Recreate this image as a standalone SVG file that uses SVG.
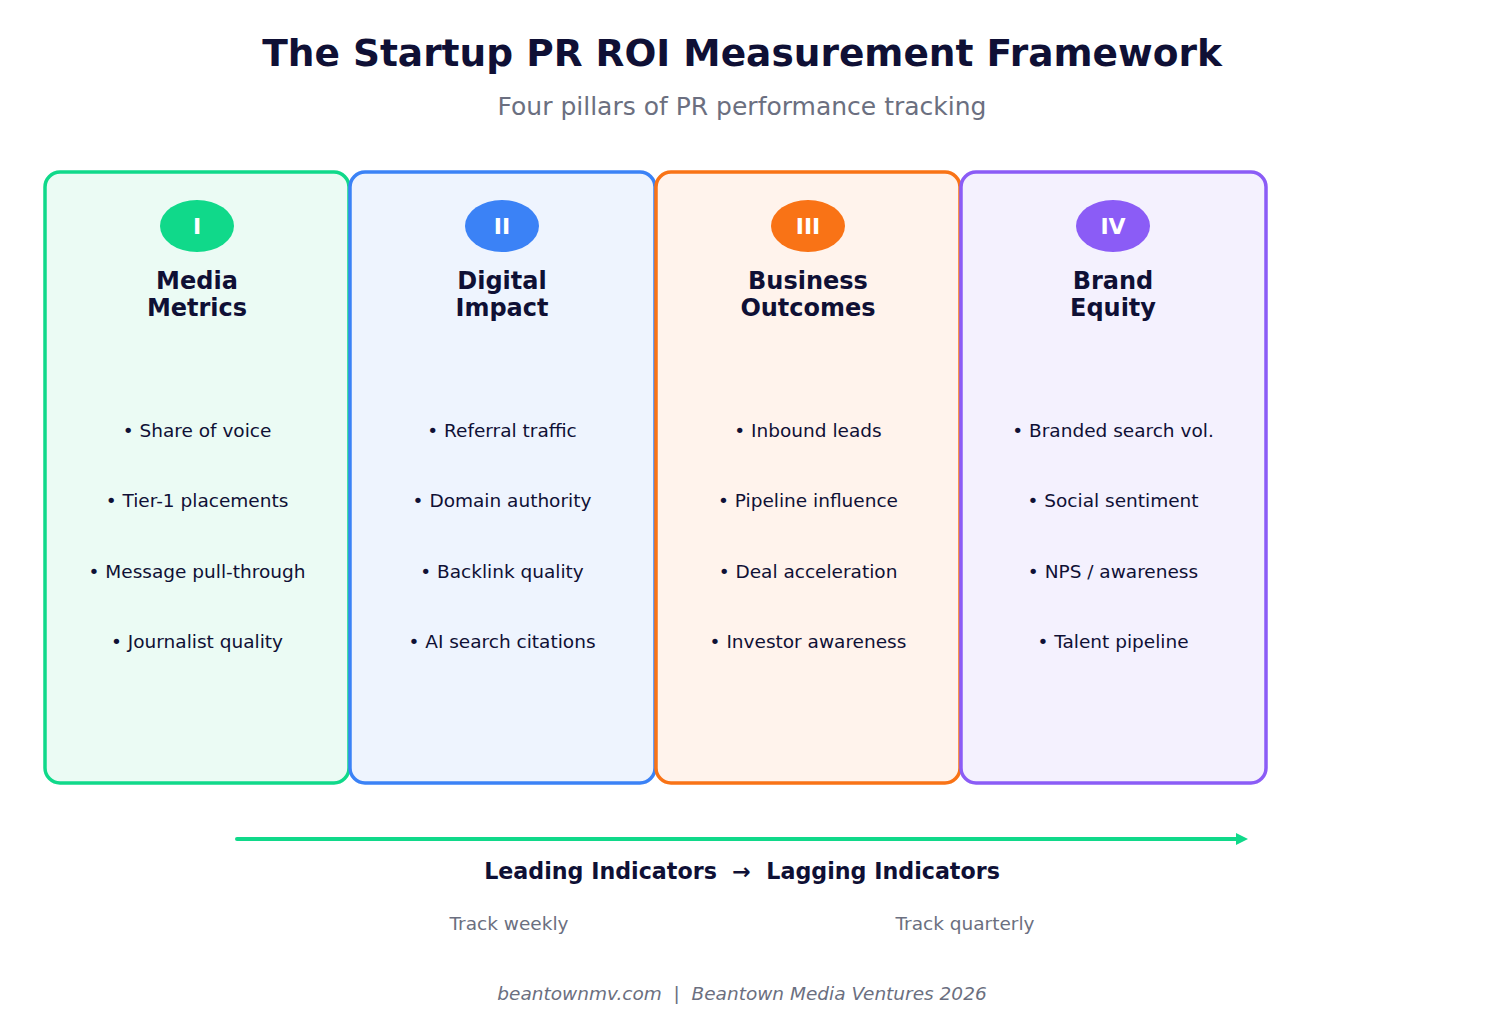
<svg xmlns="http://www.w3.org/2000/svg" width="1485" height="1035" viewBox="0 0 1485 1035">
<style>
text{font-family:"DejaVu Sans",sans-serif;white-space:pre}
.card{stroke-width:3.5}
.num{fill:#fff;font-size:22px;font-weight:bold;text-anchor:middle}
.ttl{fill:#0f1035;font-size:24px;font-weight:bold;text-anchor:middle}
.it{fill:#0f1035;font-size:18.5px;text-anchor:middle}
.gray{fill:#6b6f80}
</style>
<rect width="1485" height="1035" fill="#fff"/>
<text x="742" y="66" text-anchor="middle" font-size="37.5" font-weight="bold" fill="#0f1035">The Startup PR ROI Measurement Framework</text>
<text x="742" y="115" text-anchor="middle" font-size="25" class="gray">Four pillars of PR performance tracking</text>
<g id="card1"><rect x="45" y="172" width="304" height="611" rx="15" class="card" fill="#ebfbf4" stroke="#10d98a"/><ellipse cx="197" cy="226" rx="37" ry="26" fill="#10d98a"/><text x="197" y="234" class="num">I</text><text x="197" y="289" class="ttl">Media</text><text x="197" y="316" class="ttl">Metrics</text><text x="197" y="437" class="it">• Share of voice</text><text x="197" y="507" class="it">• Tier-1 placements</text><text x="197" y="578" class="it">• Message pull-through</text><text x="197" y="648" class="it">• Journalist quality</text></g>
<g id="card2"><rect x="350" y="172" width="305" height="611" rx="15" class="card" fill="#eef4fe" stroke="#3b82f6"/><ellipse cx="502" cy="226" rx="37" ry="26" fill="#3b82f6"/><text x="502" y="234" class="num">II</text><text x="502" y="289" class="ttl">Digital</text><text x="502" y="316" class="ttl">Impact</text><text x="502" y="437" class="it">• Referral traffic</text><text x="502" y="507" class="it">• Domain authority</text><text x="502" y="578" class="it">• Backlink quality</text><text x="502" y="648" class="it">• AI search citations</text></g>
<g id="card3"><rect x="656" y="172" width="304" height="611" rx="15" class="card" fill="#fff3ec" stroke="#f97316"/><ellipse cx="808" cy="226" rx="37" ry="26" fill="#f97316"/><text x="808" y="234" class="num">III</text><text x="808" y="289" class="ttl">Business</text><text x="808" y="316" class="ttl">Outcomes</text><text x="808" y="437" class="it">• Inbound leads</text><text x="808" y="507" class="it">• Pipeline influence</text><text x="808" y="578" class="it">• Deal acceleration</text><text x="808" y="648" class="it">• Investor awareness</text></g>
<g id="card4"><rect x="961" y="172" width="305" height="611" rx="15" class="card" fill="#f4f1fe" stroke="#8b5cf6"/><ellipse cx="1113" cy="226" rx="37" ry="26" fill="#8b5cf6"/><text x="1113" y="234" class="num">IV</text><text x="1113" y="289" class="ttl">Brand</text><text x="1113" y="316" class="ttl">Equity</text><text x="1113" y="437" class="it">• Branded search vol.</text><text x="1113" y="507" class="it">• Social sentiment</text><text x="1113" y="578" class="it">• NPS / awareness</text><text x="1113" y="648" class="it">• Talent pipeline</text></g>
<g id="connectors"><line x1="237" y1="839" x2="1238" y2="839" stroke="#10d98a" stroke-width="4" stroke-linecap="round"/><path d="M1236,833L1248,839L1236,845z" fill="#10d98a"/></g>
<text x="742" y="879" text-anchor="middle" font-size="22.2" font-weight="bold" fill="#0f1035">Leading Indicators  →  Lagging Indicators</text>
<text x="509" y="930" text-anchor="middle" font-size="18.5" class="gray">Track weekly</text>
<text x="965" y="930" text-anchor="middle" font-size="18.5" class="gray">Track quarterly</text>
<text x="742" y="1000" text-anchor="middle" font-size="18.5" font-style="italic" class="gray">beantownmv.com  |  Beantown Media Ventures 2026</text>
</svg>
